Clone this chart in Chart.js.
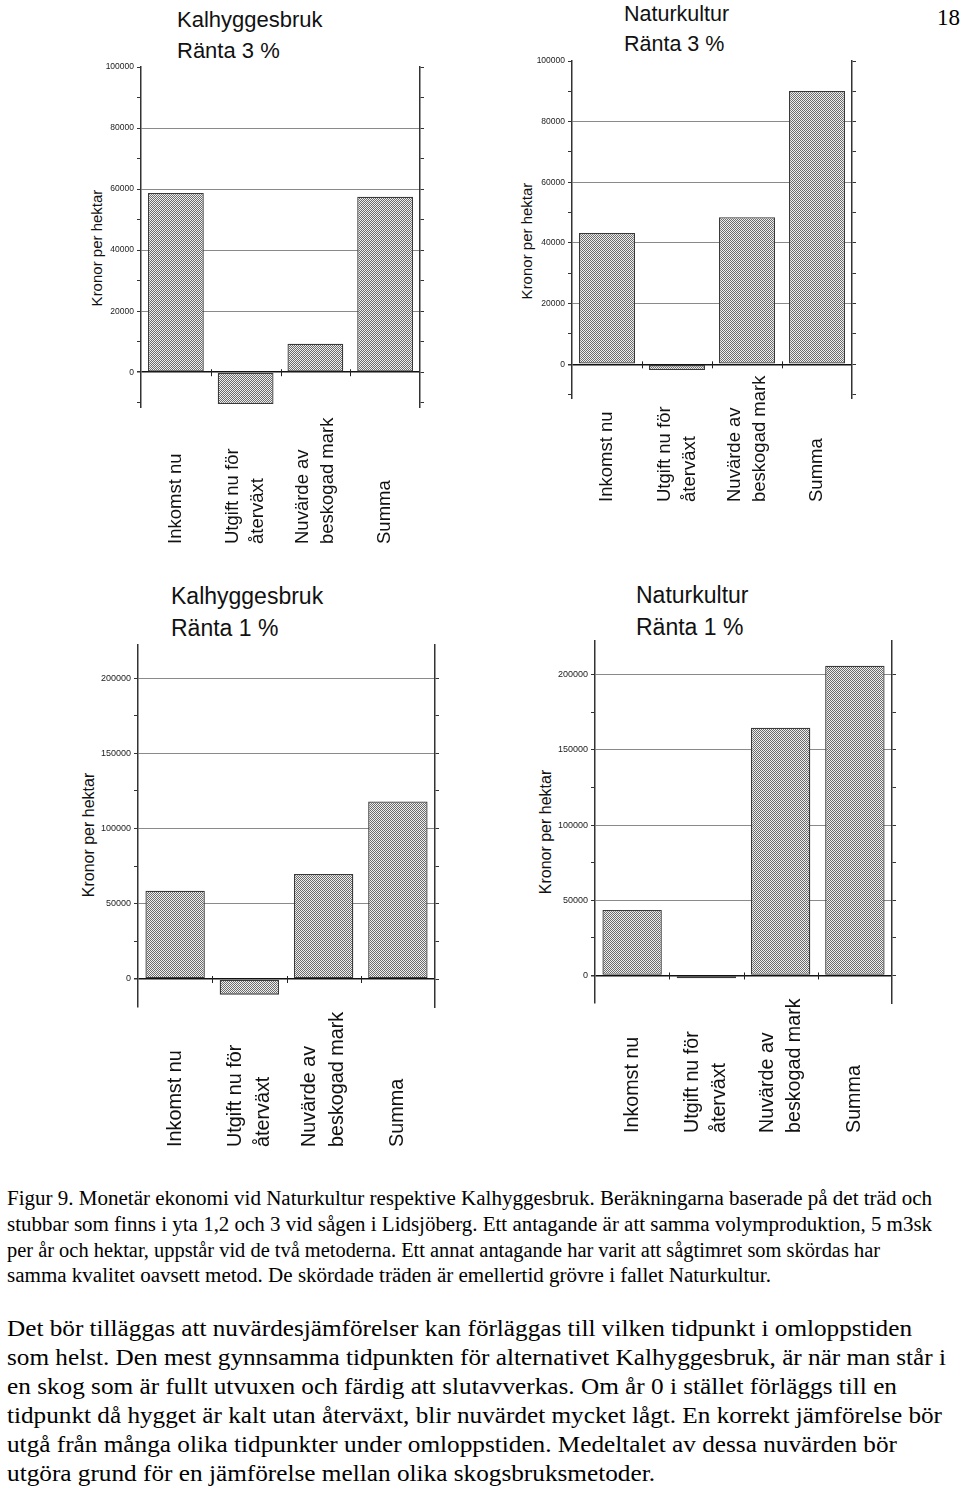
<!DOCTYPE html>
<html>
<head>
<meta charset="utf-8">
<script src="https://cdn.jsdelivr.net/npm/chart.js@4"></script>
<style>
  body { margin: 0; background: #fff; width: 960px; height: 1491px; position: relative; overflow: hidden; }
  canvas { position: absolute; display: block; }
  .title { position: absolute; font-family: "Liberation Sans", Arial, sans-serif; color: #111; white-space: nowrap; }
  .ytitle { position: absolute; width: 200px; height: 20px; line-height: 20px; text-align: center;
            font-family: "Liberation Sans", Arial, sans-serif; color: #111; transform: rotate(-90deg); white-space: nowrap; }
  .txt { position: absolute; left: 7px; font-family: "Liberation Serif", "Times New Roman", serif; color: #000;
         white-space: nowrap; transform-origin: 0 0; }
</style>
</head>
<body>

<div class="title" style="left:177px;top:4px;font-size:22px;line-height:31px">Kalhyggesbruk<br>Ränta 3 %</div>
<div class="title" style="left:624px;top:-1px;font-size:21.5px;line-height:30px">Naturkultur<br>Ränta 3 %</div>
<div class="title" style="left:171px;top:581px;font-size:23px;line-height:31.7px">Kalhyggesbruk<br>Ränta 1 %</div>
<div class="title" style="left:636px;top:580px;font-size:23px;line-height:31.7px">Naturkultur<br>Ränta 1 %</div>

<div style="position:absolute;left:937px;top:6px;font-family:'Liberation Serif','Times New Roman',serif;font-size:23px;line-height:23px">18</div>

<div class="ytitle" style="left:-3px;top:238px;font-size:15px">Kronor per hektar</div>
<div class="ytitle" style="left:427px;top:231px;font-size:15px">Kronor per hektar</div>
<div class="ytitle" style="left:-11px;top:825px;font-size:16px">Kronor per hektar</div>
<div class="ytitle" style="left:446px;top:822px;font-size:16px">Kronor per hektar</div>

<canvas id="c1" width="360" height="500" style="left:80px;top:55px"></canvas>
<canvas id="c2" width="360" height="470" style="left:510px;top:50px"></canvas>
<canvas id="c3" width="375" height="525" style="left:75px;top:635px"></canvas>
<canvas id="c4" width="375" height="515" style="left:530px;top:630px"></canvas>

<div class="txt" data-w="925" style="top:1186px;font-size:20px;line-height:25.7px">Figur 9. Monetär ekonomi vid Naturkultur respektive Kalhyggesbruk. Beräkningarna baserade på det träd och</div>
<div class="txt" data-w="925" style="top:1212px;font-size:20px;line-height:25.7px">stubbar som finns i yta 1,2 och 3 vid sågen i Lidsjöberg. Ett antagande är att samma volymproduktion, 5 m3sk</div>
<div class="txt" data-w="873" style="top:1238px;font-size:20px;line-height:25.7px">per år och hektar, uppstår vid de två metoderna. Ett annat antagande har varit att sågtimret som skördas har</div>
<div class="txt" data-w="764" style="top:1263px;font-size:20px;line-height:25.7px">samma kvalitet oavsett metod. De skördade träden är emellertid grövre i fallet Naturkultur.</div>

<div class="txt" data-w="905" style="top:1314px;font-size:24px;line-height:28.8px">Det bör tilläggas att nuvärdesjämförelser kan förläggas till vilken tidpunkt i omloppstiden</div>
<div class="txt" data-w="939" style="top:1343px;font-size:24px;line-height:28.8px">som helst. Den mest gynnsamma tidpunkten för alternativet Kalhyggesbruk, är när man står i</div>
<div class="txt" data-w="890" style="top:1372px;font-size:24px;line-height:28.8px">en skog som är fullt utvuxen och färdig att slutavverkas. Om år 0 i stället förläggs till en</div>
<div class="txt" data-w="935" style="top:1401px;font-size:24px;line-height:28.8px">tidpunkt då hygget är kalt utan återväxt, blir nuvärdet mycket lågt. En korrekt jämförelse bör</div>
<div class="txt" data-w="890" style="top:1430px;font-size:24px;line-height:28.8px">utgå från många olika tidpunkter under omloppstiden. Medeltalet av dessa nuvärden bör</div>
<div class="txt" data-w="648" style="top:1459px;font-size:24px;line-height:28.8px">utgöra grund för en jämförelse mellan olika skogsbruksmetoder.</div>

<script>
// categories (multi-line labels)
const categories = [['Inkomst nu'], ['Utgift nu för', 'återväxt'], ['Nuvärde av', 'beskogad mark'], ['Summa']];

// kronor per hektar
const kalhygge3 = [58700, -10400, 9300, 57500];
const natur3 = [43300, -1900, 48500, 90100];
const kalhygge1 = [58700, -10400, 69800, 118000];
const natur1 = [43500, -1800, 164800, 206000];

// y ticks
const majorTicks3 = [0, 20000, 40000, 60000, 80000, 100000];
const minorTicks3 = [-10000, 10000, 30000, 50000, 70000, 90000];
const majorTicks1 = [0, 50000, 100000, 150000, 200000];
const minorTicks1 = [25000, 75000, 125000, 175000];

const SANS = '"Liberation Sans", Arial, sans-serif';

// checker fill like the printed bars
const pc = document.createElement('canvas');
pc.width = 2; pc.height = 2;
const pctx = pc.getContext('2d');
pctx.fillStyle = '#efefef';
pctx.fillRect(0, 0, 2, 2);
pctx.fillStyle = '#6c6c6c';
pctx.fillRect(0, 0, 1, 1);
pctx.fillRect(1, 1, 1, 1);

const catLabels = {
  id: 'catLabels',
  afterDraw(chart, args, opts) {
    const ctx = chart.ctx;
    const x = chart.scales.x, y = chart.scales.y;
    const y0 = y.getPixelForValue(0);
    ctx.save();
    // little ticks between categories on the zero line
    ctx.strokeStyle = '#222';
    ctx.lineWidth = 1;
    for (let i = 1; i < categories.length; i++) {
      const bx = Math.round((x.getPixelForValue(i - 1) + x.getPixelForValue(i)) / 2) + 0.5;
      ctx.beginPath();
      ctx.moveTo(bx, y0 - 3);
      ctx.lineTo(bx, y0 + 4);
      ctx.stroke();
    }
    ctx.fillStyle = '#111';
    ctx.font = opts.size + 'px ' + SANS;
    categories.forEach((lines, i) => {
      const cx = x.getPixelForValue(i);
      lines.forEach((ln, j) => {
        const off = (j - (lines.length - 1) / 2) * opts.lineHeight;
        ctx.save();
        ctx.translate(cx + off, chart.chartArea.bottom + opts.gap);
        ctx.rotate(-Math.PI / 2);
        ctx.textAlign = 'left';
        ctx.textBaseline = 'middle';
        ctx.fillText(ln, 0, 0);
        ctx.restore();
      });
    });
    ctx.restore();
  }
};

function makeChart(id, values, c) {
  const canvas = document.getElementById(id);
  const ctx = canvas.getContext('2d');
  const fill = ctx.createPattern(pc, 'repeat');
  const allTicks = c.minor.concat(c.major).sort((a, b) => a - b);
  const setTicks = s => { s.ticks = allTicks.map(v => ({ value: v })); };

  new Chart(ctx, {
    type: 'bar',
    data: {
      labels: categories,
      datasets: [{
        data: values,
        backgroundColor: fill,
        borderColor: '#3a3a3a',
        borderWidth: 1.3,
        borderSkipped: false,
        categoryPercentage: 0.8,
        barPercentage: 1
      }]
    },
    options: {
      responsive: false,
      animation: false,
      devicePixelRatio: 1,
      layout: { padding: { left: 0, top: c.padTop, right: c.padRight, bottom: c.padBottom } },
      plugins: {
        legend: { display: false },
        tooltip: { enabled: false },
        catLabels: { size: c.labelSize, lineHeight: c.lineHeight, gap: c.gap }
      },
      scales: {
        x: { display: false, offset: true },
        y: {
          min: c.min, max: c.max,
          afterBuildTicks: setTicks,
          afterFit: s => { s.width = c.yWidth; },
          ticks: {
            autoSkip: false,
            padding: 3,
            color: '#222',
            font: { size: c.tickSize, family: SANS },
            callback: v => c.major.includes(v) ? String(v) : ''
          },
          grid: {
            color: g => {
              const v = g.tick ? g.tick.value : null;
              if (v === 0) return '#111';
              if (c.major.includes(v) && v < c.max) return '#8a8a8a';
              return 'rgba(0,0,0,0)';
            },
            lineWidth: g => (g.tick && g.tick.value === 0) ? 1.5 : 1,
            tickColor: '#333',
            tickLength: 4
          },
          border: { display: true, color: '#333', width: 1.5 }
        },
        y2: {
          position: 'right',
          min: c.min, max: c.max,
          afterBuildTicks: setTicks,
          afterFit: s => { s.width = 10; },
          ticks: { display: false },
          grid: { drawOnChartArea: false, tickColor: '#333', tickLength: 4 },
          border: { display: true, color: '#333', width: 1.5 }
        }
      }
    },
    plugins: [catLabels]
  });
}

makeChart('c1', kalhygge3, { min: -11400, max: 100000, major: majorTicks3, minor: minorTicks3,
  yWidth: 61, padTop: 12, padRight: 10, padBottom: 148, tickSize: 8.5, labelSize: 18.5, lineHeight: 25, gap: 137 });
makeChart('c2', natur3, { min: -11100, max: 100000, major: majorTicks3, minor: minorTicks3,
  yWidth: 62, padTop: 11, padRight: 8, padBottom: 122, tickSize: 8.5, labelSize: 18.5, lineHeight: 25, gap: 104 });
makeChart('c3', kalhygge1, { min: -18600, max: 222000, major: majorTicks1, minor: minorTicks1,
  yWidth: 63, padTop: 10, padRight: 5, padBottom: 153, tickSize: 9, labelSize: 19.8, lineHeight: 28, gap: 140 });
makeChart('c4', natur1, { min: -18300, max: 222400, major: majorTicks1, minor: minorTicks1,
  yWidth: 65, padTop: 11, padRight: 3, padBottom: 142, tickSize: 9, labelSize: 19.7, lineHeight: 27, gap: 130 });

// squeeze the text lines to the printed line lengths
document.querySelectorAll('.txt').forEach(el => {
  const w = el.getBoundingClientRect().width;
  const target = parseFloat(el.dataset.w);
  if (w > 0) el.style.transform = 'scaleX(' + (target / w).toFixed(4) + ')';
});
</script>
</body>
</html>
